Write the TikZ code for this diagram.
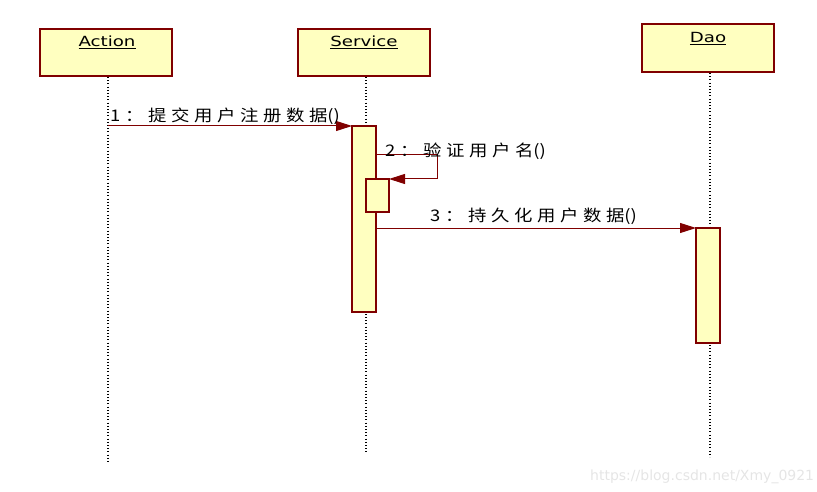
\documentclass[tikz,border=0pt]{standalone}
\usepackage{fontspec}
\setmainfont{DejaVu Sans}
\newfontfamily\cjk[LetterSpace=25]{Noto Sans CJK SC}
\newfontfamily\cjkplain{Noto Sans CJK SC}
\usetikzlibrary{arrows.meta}
\definecolor{umlred}{HTML}{800000}
\definecolor{umlfill}{HTML}{FFFFC0}
\newcommand{\msgtext}[1]{\scalebox{1.15}[1]{\cjk #1{\cjkplain ()}}}
\tikzset{
  objbox/.style={draw=umlred, fill=umlfill, line width=1.6pt},
  actbar/.style={draw=umlred, fill=umlfill, line width=1.2pt},
  lifeline/.style={draw=black, line width=1.3pt, dash pattern=on 1pt off 2.2pt},
  msg/.style={draw=umlred, line width=1pt, -{Triangle[length=16pt,width=10pt]}},
  objlabel/.style={font=\fontsize{14}{14}\selectfont, inner sep=0pt, anchor=north},
  msglabel/.style={font=\fontsize{16}{16}\selectfont, inner sep=0pt, anchor=base west},
}
\begin{document}
\begin{tikzpicture}[x=1pt,y=-1pt]
\useasboundingbox (0,0) rectangle (817,492);
% objects
\draw[objbox] (40,29) rectangle (172,76);
\draw[objbox] (298,29) rectangle (430,76);
\draw[objbox] (642,24) rectangle (774,72);
\node[objlabel] (action) at (107,36) {\scalebox{1.3}[1]{\underline{Action}}};
\node[objlabel] (service) at (364,36) {\scalebox{1.3}[1]{\underline{Service}}};
\node[objlabel] (dao) at (708,32) {\scalebox{1.3}[1]{\underline{Dao}}};
% lifelines
\coordinate (a0) at (108,77); \coordinate (a1) at (108,462);
\coordinate (s0) at (366,77); \coordinate (s1) at (366,452);
\coordinate (d0) at (710,73); \coordinate (d1) at (710,457);
\draw[lifeline] (a0) -- (a1);
\draw[lifeline] (s0) -- (s1);
\draw[lifeline] (d0) -- (d1);
% activations
\draw[actbar] (352,126) rectangle (376,312);
\draw[actbar] (366,179) rectangle (389,212);
\draw[actbar] (696,228) rectangle (720,343);
% messages
\coordinate (m1s) at (108,126); \coordinate (m1e) at (352,126);
\draw[msg] (m1s) -- (m1e);
\node[msglabel] (l1) at (110,122) {\msgtext{1：提交用户注册数据}};
\coordinate (m2s) at (376,155); \coordinate (m2a) at (437,155);
\coordinate (m2b) at (437,179); \coordinate (m2e) at (389,179);
\draw[msg] (m2s) -- (m2a) -- (m2b) -- (m2e);
\node[msglabel] (l2) at (385,157) {\msgtext{2：验证用户名}};
\coordinate (m3s) at (376,228); \coordinate (m3e) at (696,228);
\draw[msg] (m3s) -- (m3e);
\node[msglabel] (l3) at (430,222) {\msgtext{3：持久化用户数据}};
% watermark
\node[font=\fontsize{14}{14}\selectfont, text=black!10, inner sep=0pt, anchor=base west] (wm) at (590,480) {https://blog.csdn.net/Xmy\_0921};
\end{tikzpicture}
\end{document}
